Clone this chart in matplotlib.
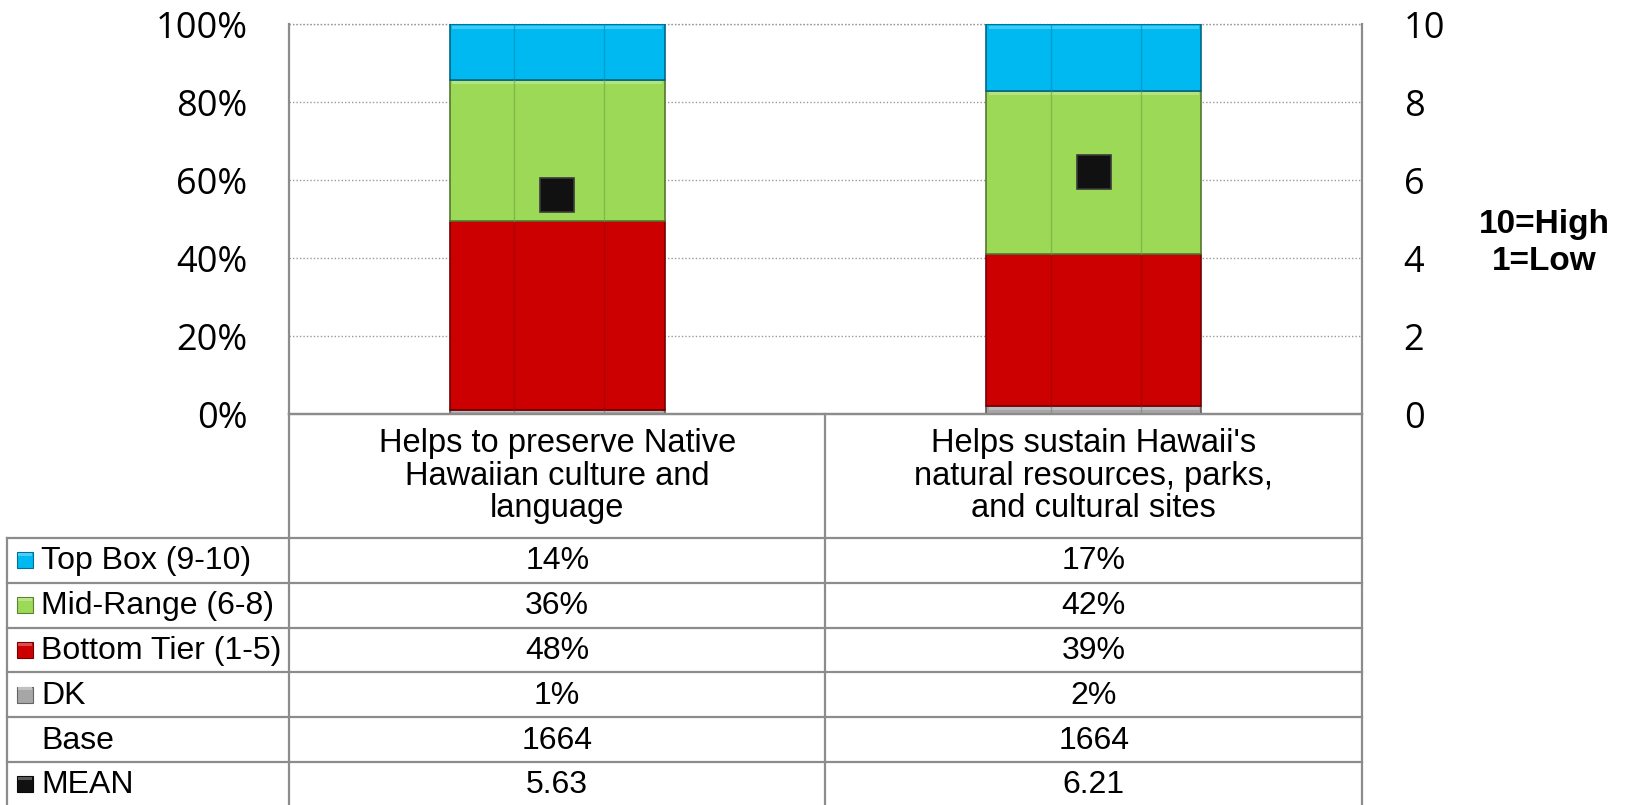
import numpy as np
import matplotlib
matplotlib.use("Agg")
import matplotlib.pyplot as plt
from matplotlib.patches import Rectangle
from matplotlib.colors import to_rgb

# Data
categories = ["Helps to preserve Native\nHawaiian culture and\nlanguage",
              "Helps sustain Hawaii's\nnatural resources, parks,\nand cultural sites"]
top_box = [14, 17]
mid_range = [36, 42]
bottom_tier = [48, 39]
dk = [1, 2]
base = [1664, 1664]
mean = [5.63, 6.21]

row_labels = ["Top Box (9-10)", "Mid-Range (6-8)", "Bottom Tier (1-5)", "DK", "Base", "MEAN"]

# colours
c_top = "#00B9F1"
c_mid = "#9BD957"
c_bot = "#CC0000"
c_dk = "#A6A6A6"
c_mean = "#111111"
grid_c = "#8C8C8C"

W, H = 1627, 805
fig = plt.figure(figsize=(W / 100, H / 100), dpi=100)

# plot area in pixels
left_px, right_px, top_px, bottom_px = 289, 1362, 24.5, 414
ax = fig.add_axes([left_px / W, 1 - bottom_px / H,
                   (right_px - left_px) / W, (bottom_px - top_px) / H])

x = np.arange(len(categories))
series = [dk, bottom_tier, mid_range, top_box]
colors = [c_dk, c_bot, c_mid, c_top]
totals = np.sum(series, axis=0)
bar_w = 0.4


def shade(c, f):
    r, g, b = to_rgb(c)
    if f < 1:
        return (r * f, g * f, b * f)
    return (r + (1 - r) * (f - 1), g + (1 - g) * (f - 1), b + (1 - b) * (f - 1))


bottom = np.zeros(len(categories))
for vals, col in zip(series, colors):
    share = np.array(vals) / totals * 100
    bars = ax.bar(x, share, bar_w, bottom=bottom, color=col,
                  edgecolor=shade(col, 0.55), linewidth=1.2, zorder=3)
    for b in bars:
        bx, by, bw, bh = b.get_x(), b.get_y(), b.get_width(), b.get_height()
        # bevel-ish details
        if col != c_bot:
            hl = min(0.9, bh * 0.3)
            ax.add_patch(Rectangle((bx + 0.004, by + bh - hl - 0.3), bw - 0.008, hl,
                                   color=shade(col, 1.25), linewidth=0, zorder=4))
        for f in (0.3, 0.72):
            ax.plot([bx + bw * f] * 2, [by, by + bh], color=shade(col, 0.75),
                    lw=1, alpha=0.6, zorder=4)
    bottom += share

ax.set_xlim(-0.5, len(categories) - 0.5)
ax.set_ylim(0, 100)
ax.set_yticks(np.arange(0, 101, 20))
ax.set_yticklabels([f"{v}%" for v in range(0, 101, 20)])
ax.set_xticks([])
ax.tick_params(axis="y", length=0, pad=30, labelsize=26)
for t in ax.get_yticklabels():
    t.set_fontfamily("Open Sans")
ax.grid(axis="y", linestyle=(0, (1, 1.5)), color="#9A9A9A", lw=1, zorder=0)
ax.spines["top"].set_visible(False)
for s in ("left", "right", "bottom"):
    ax.spines[s].set_color(grid_c)
    ax.spines[s].set_linewidth(1.6)
ax.axhline(100, linestyle=(0, (1, 1.5)), color="#9A9A9A", lw=1, zorder=0, clip_on=False)

# mean on secondary axis
ax2 = ax.twinx()
ax2.set_ylim(0, 10)
ax2.set_yticks(np.arange(0, 11, 2))
ax2.tick_params(axis="y", length=0, pad=30, labelsize=26)
for t in ax2.get_yticklabels():
    t.set_fontfamily("Open Sans")
for s in ax2.spines.values():
    s.set_visible(False)
ax2.plot(x, mean, linestyle="none", marker="s", markersize=24.5,
         markerfacecolor=c_mean, markeredgecolor="#3A3A3A", markeredgewidth=1.2, zorder=6)

fig.text(1544 / W, 1 - 243 / H, "10=High\n1=Low", ha="center", va="center",
         fontsize=24, fontweight="bold", family="Liberation Sans", linespacing=1.25)

# table drawn in pixel coordinates
tab = fig.add_axes([0, 0, 1, 1], facecolor="none")
tab.set_xlim(0, W)
tab.set_ylim(H, 0)
tab.axis("off")

fig.canvas.draw()
col_c = [ax.transData.transform((i, 0))[0] for i in x]
col_edges = [ax.transData.transform((i - 0.5, 0))[0] for i in x] + [right_px]

row_h = 44.8
row_top = 538
rows_y = [row_top + i * row_h for i in range(len(row_labels) + 1)]
lkw = dict(color=grid_c, lw=1.6)

tab.plot([left_px, right_px], [bottom_px, bottom_px], **lkw)
for y in rows_y:
    tab.plot([7, right_px], [y, y], **lkw)
tab.plot([7, 7], [row_top, rows_y[-1]], **lkw)
for xe in col_edges:
    tab.plot([xe, xe], [bottom_px, rows_y[-1]], **lkw)

for cx, cat in zip(col_c, categories):
    tab.text(cx, (bottom_px + row_top) / 2, cat, ha="center", va="center",
             linespacing=1.08, fontsize=23.5, family="Liberation Sans")

row_vals = [[f"{v}%" for v in top_box], [f"{v}%" for v in mid_range],
            [f"{v}%" for v in bottom_tier], [f"{v}%" for v in dk],
            [str(v) for v in base], [f"{v:.2f}" for v in mean]]
swatches = [c_top, c_mid, c_bot, c_dk, None, c_mean]

for i, (lab, vals, sw) in enumerate(zip(row_labels, row_vals, swatches)):
    yc = rows_y[i] + row_h / 2
    tab.text(41, yc + 1, lab, ha="left", va="center", fontsize=23, family="Liberation Sans")
    if sw is not None:
        tab.add_patch(Rectangle((17, yc - 8), 16, 16, facecolor=sw,
                                edgecolor=shade(sw, 0.6), lw=0.8))
        tab.add_patch(Rectangle((18, yc - 7.5), 14, 3, facecolor=shade(sw, 1.3), lw=0))
    for cx, v in zip(col_c, vals):
        tab.text(cx, yc + 1, v, ha="center", va="center", fontsize=23, family="Liberation Sans")

fig.savefig("out.png", dpi=100)
